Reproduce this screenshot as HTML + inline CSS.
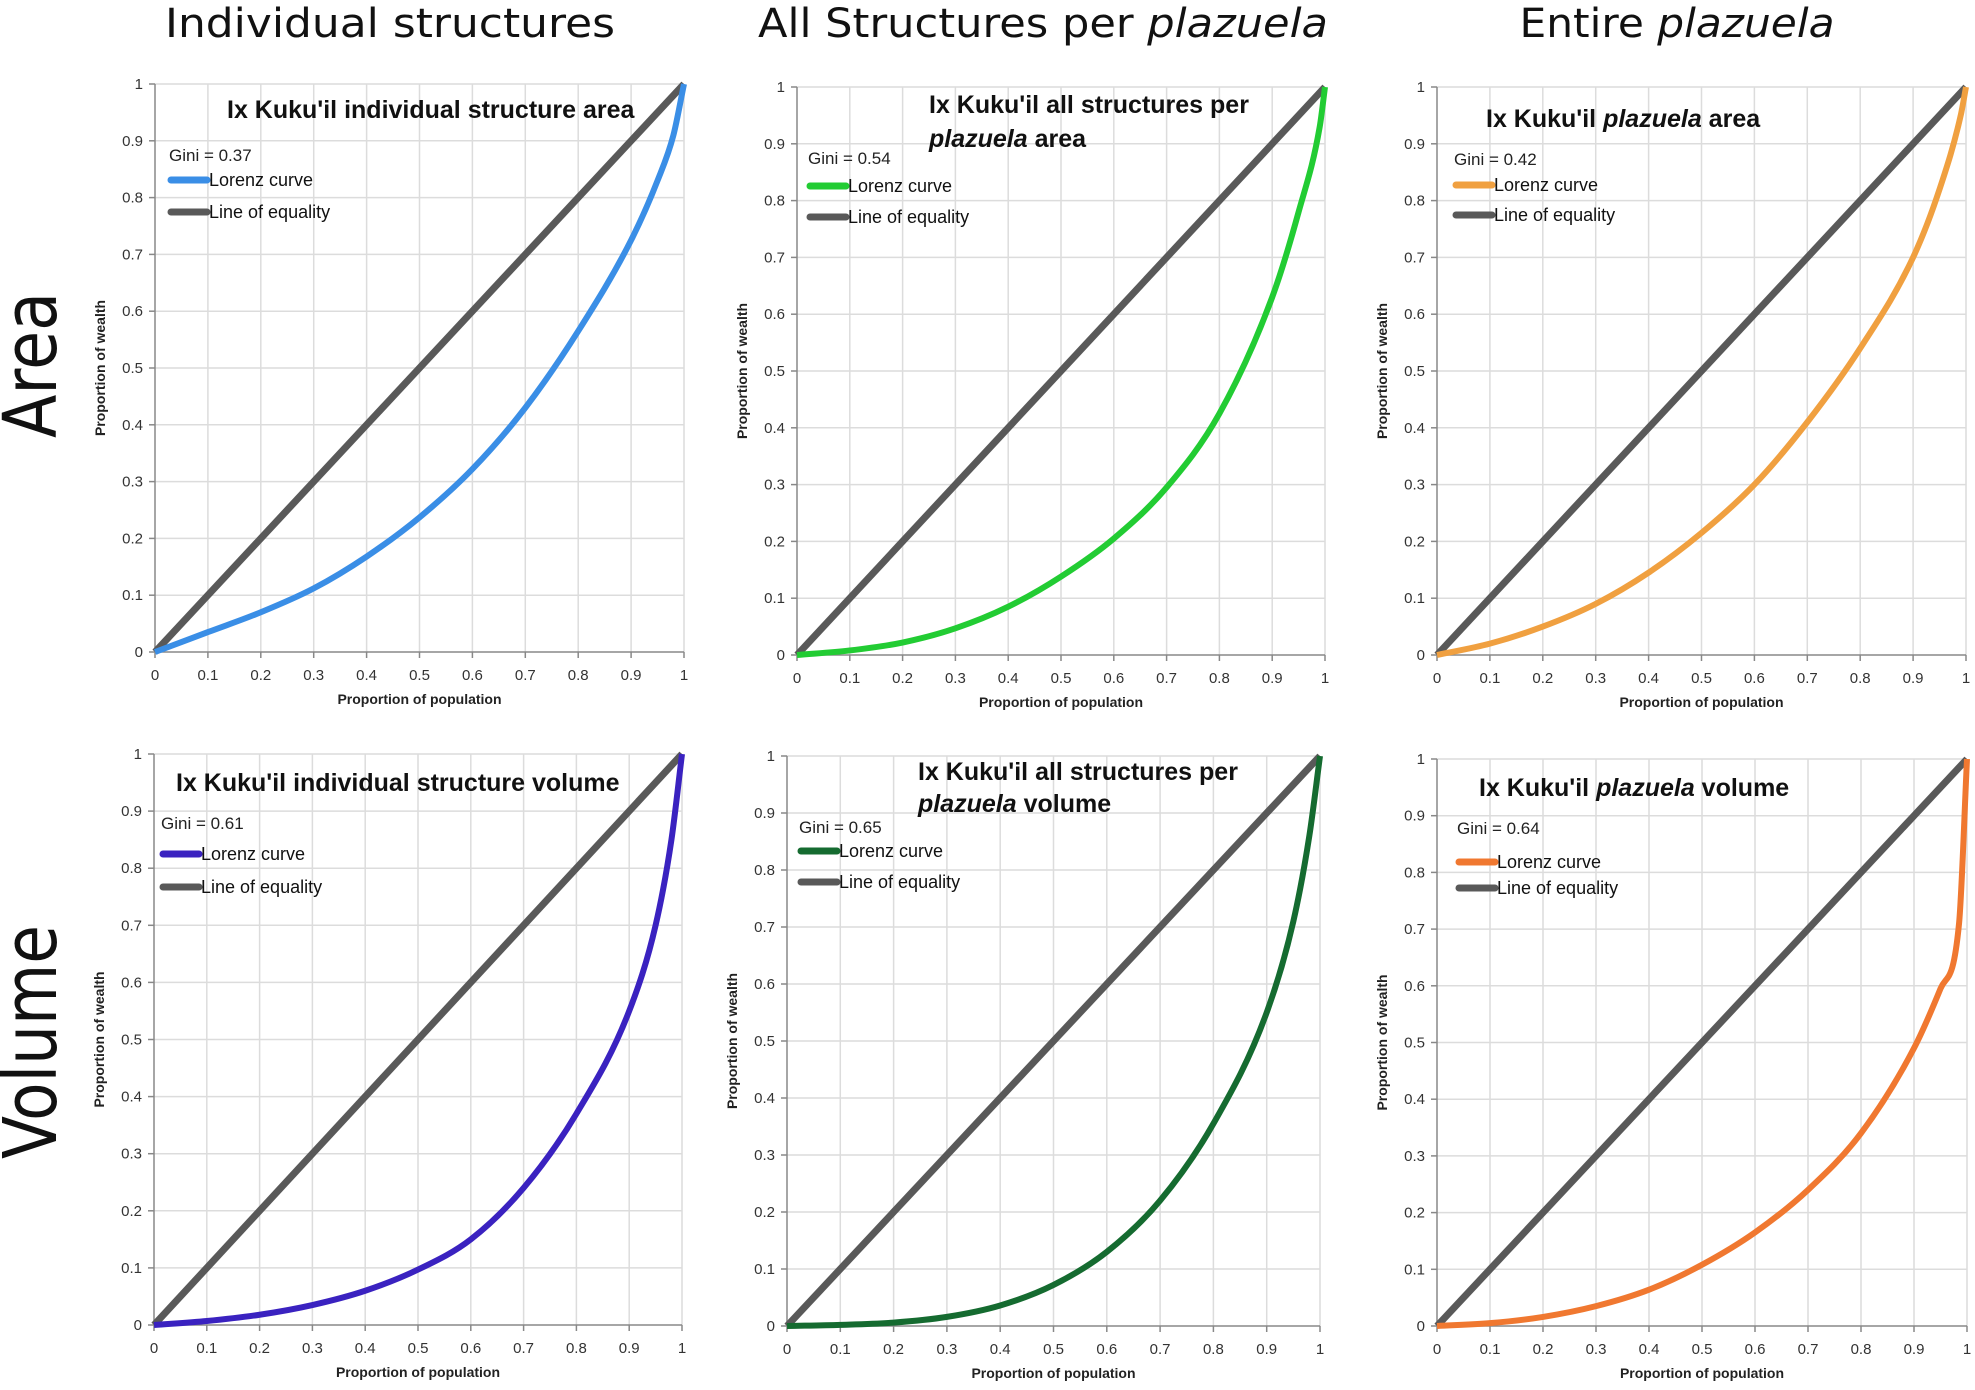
<!DOCTYPE html>
<html><head><meta charset="utf-8"><style>
html,body{margin:0;padding:0;background:#fff;}
svg{display:block;}
text{font-family:"Liberation Sans","DejaVu Sans",sans-serif;}
</style></head><body>
<svg id="fig" width="1975" height="1390" viewBox="0 0 1975 1390" xmlns="http://www.w3.org/2000/svg">
<g>
<text x="390" y="37" text-anchor="middle" font-size="40" textLength="450" lengthAdjust="spacingAndGlyphs" fill="#111" style="font-family:'DejaVu Sans',sans-serif">Individual structures</text>
<text x="1043" y="37" text-anchor="middle" font-size="40" textLength="570" lengthAdjust="spacingAndGlyphs" fill="#111" style="font-family:'DejaVu Sans',sans-serif">All Structures per <tspan font-style="italic">plazuela</tspan></text>
<text x="1677" y="37" text-anchor="middle" font-size="40" textLength="315" lengthAdjust="spacingAndGlyphs" fill="#111" style="font-family:'DejaVu Sans',sans-serif">Entire <tspan font-style="italic">plazuela</tspan></text>
</g>
<g>
<text transform="translate(56,365) rotate(-90)" text-anchor="middle" font-size="74" textLength="146" lengthAdjust="spacingAndGlyphs" fill="#111" style="font-family:'DejaVu Sans',sans-serif">Area</text>
<text transform="translate(56,1042) rotate(-90)" text-anchor="middle" font-size="74" textLength="234" lengthAdjust="spacingAndGlyphs" fill="#111" style="font-family:'DejaVu Sans',sans-serif">Volume</text>
</g>
</svg>
<script>
// ---- data (Lorenz curves) ----
const xTicks = [0,0.1,0.2,0.3,0.4,0.5,0.6,0.7,0.8,0.9,1];
const yTicks = [0,0.1,0.2,0.3,0.4,0.5,0.6,0.7,0.8,0.9,1];
const equalityX = [0,1];
const equalityY = [0,1];
const ginis = ["0.37","0.54","0.42","0.61","0.65","0.64"];
const pop1 = [0,0.1,0.2,0.3,0.4,0.5,0.6,0.7,0.8,0.9,0.95,0.98,1];
const wealth1 = [0,0.035,0.07,0.112,0.168,0.237,0.322,0.43,0.565,0.725,0.83,0.91,1];
const pop2 = [0,0.1,0.2,0.3,0.4,0.5,0.6,0.7,0.8,0.9,0.95,0.99,1];
const wealth2 = [0,0.008,0.022,0.047,0.085,0.138,0.205,0.295,0.425,0.63,0.78,0.93,1];
const pop3 = [0,0.1,0.2,0.3,0.4,0.5,0.6,0.7,0.8,0.9,0.95,0.99,1];
const wealth3 = [0,0.02,0.05,0.09,0.145,0.215,0.3,0.41,0.54,0.7,0.82,0.95,1];
const pop4 = [0,0.1,0.2,0.3,0.4,0.5,0.6,0.7,0.8,0.9,0.95,0.98,1];
const wealth4 = [0,0.007,0.018,0.035,0.06,0.097,0.15,0.24,0.37,0.55,0.7,0.85,1];
const pop5 = [0,0.1,0.2,0.3,0.4,0.5,0.6,0.7,0.8,0.9,0.95,0.98,1];
const wealth5 = [0,0.002,0.006,0.016,0.036,0.072,0.13,0.22,0.355,0.55,0.71,0.86,1];
const pop6 = [0,0.1,0.2,0.3,0.4,0.5,0.6,0.7,0.8,0.9,0.95,0.985,1];
const wealth6 = [0,0.005,0.016,0.035,0.064,0.108,0.165,0.24,0.34,0.49,0.595,0.71,1];

// ---- layout (not data) ----
const panels = [
 {name:'area-individual', x0:155,x1:684,yTop:84,yBot:652,color:'#3a8ee6',pop:pop1,w:wealth1,
  title:[[['Ix Kuku\'il individual structure area',false]]],tx:72,ty:[34],gx:14,gy:77,l1:96,l2:128},
 {name:'area-all-structures', x0:797,x1:1325,yTop:87,yBot:655,color:'#22cc33',pop:pop2,w:wealth2,
  title:[[['Ix Kuku\'il all structures per',false]],[['plazuela',true],[' area',false]]],tx:132,ty:[26,60],gx:11,gy:77,l1:99,l2:130},
 {name:'area-plazuela', x0:1437,x1:1966,yTop:87,yBot:655,color:'#f0a040',pop:pop3,w:wealth3,
  title:[[['Ix Kuku\'il ',false],['plazuela',true],[' area',false]]],tx:49,ty:[40],gx:17,gy:78,l1:98,l2:128},
 {name:'volume-individual', x0:154,x1:682,yTop:754,yBot:1325,color:'#3a22c0',pop:pop4,w:wealth4,
  title:[[['Ix Kuku\'il individual structure volume',false]]],tx:22,ty:[37],gx:7,gy:75,l1:100,l2:133},
 {name:'volume-all-structures', x0:787,x1:1320,yTop:756,yBot:1326,color:'#156b30',pop:pop5,w:wealth5,
  title:[[['Ix Kuku\'il all structures per',false]],[['plazuela',true],[' volume',false]]],tx:131,ty:[24,56],gx:12,gy:77,l1:95,l2:126},
 {name:'volume-plazuela', x0:1437,x1:1967,yTop:759,yBot:1326,color:'#f07830',pop:pop6,w:wealth6,
  title:[[['Ix Kuku\'il ',false],['plazuela',true],[' volume',false]]],tx:42,ty:[37],gx:20,gy:75,l1:103,l2:129}
];

const NS='http://www.w3.org/2000/svg';
const svg=document.getElementById('fig');
function mk(tag,attrs,parent){const e=document.createElementNS(NS,tag);for(const k in attrs)e.setAttribute(k,attrs[k]);parent.appendChild(e);return e;}

// monotone cubic path through pixel points
function smoothPath(xs,ys){
 const n=xs.length;const d=[],m=new Array(n);
 for(let i=0;i<n-1;i++)d.push((ys[i+1]-ys[i])/(xs[i+1]-xs[i]));
 m[0]=d[0];m[n-1]=d[n-2];
 for(let i=1;i<n-1;i++){m[i]=(d[i-1]*d[i]<=0)?0:(d[i-1]+d[i])/2;}
 for(let i=0;i<n-1;i++){if(d[i]===0){m[i]=0;m[i+1]=0;continue;}
  const a=m[i]/d[i],b=m[i+1]/d[i],s=a*a+b*b;if(s>9){const t=3/Math.sqrt(s);m[i]=t*a*d[i];m[i+1]=t*b*d[i];}}
 let p='M'+xs[0]+','+ys[0];
 for(let i=0;i<n-1;i++){const h=(xs[i+1]-xs[i])/3;
  p+=' C'+(xs[i]+h)+','+(ys[i]+m[i]*h)+' '+(xs[i+1]-h)+','+(ys[i+1]-m[i+1]*h)+' '+xs[i+1]+','+ys[i+1];}
 return p;
}

panels.forEach((p,i)=>{
 const sx=v=>p.x0+v*(p.x1-p.x0);
 const sy=v=>p.yBot-v*(p.yBot-p.yTop);
 const g=mk('g',{},svg);
 
 
 xTicks.forEach(t=>{if(t>0){const l=mk('line',{x1:sx(t),x2:sx(t),y1:p.yTop,y2:p.yBot,stroke:'#dcdcdc','stroke-width':1.5},g);
  
  }});
 yTicks.forEach(t=>{if(t>0){const l=mk('line',{x1:p.x0,x2:p.x1,y1:sy(t),y2:sy(t),stroke:'#dcdcdc','stroke-width':1.5},g);
  
  }});
 const ya=mk('line',{x1:p.x0,x2:p.x0,y1:p.yTop,y2:p.yBot,stroke:'#888','stroke-width':1.5},g);
 
 
 const xa=mk('line',{x1:p.x0,x2:p.x1,y1:p.yBot,y2:p.yBot,stroke:'#888','stroke-width':1.5},g);
 
 
 yTicks.forEach(t=>{
  mk('line',{x1:p.x0-6,x2:p.x0,y1:sy(t),y2:sy(t),stroke:'#888','stroke-width':1.5},g);
  const tx=mk('text',{x:p.x0-12,y:sy(t)+5,'text-anchor':'end','font-size':15,fill:'#333'},g);
  tx.textContent=String(t);
  
  
 });
 xTicks.forEach(t=>{
  mk('line',{x1:sx(t),x2:sx(t),y1:p.yBot,y2:p.yBot+6,stroke:'#888','stroke-width':1.5},g);
  const tx=mk('text',{x:sx(t),y:p.yBot+28,'text-anchor':'middle','font-size':15,fill:'#333'},g);
  tx.textContent=String(t);
  
  
 });
 const xt=mk('text',{x:(p.x0+p.x1)/2,y:p.yBot+52,'text-anchor':'middle','font-size':14,'font-weight':'bold',fill:'#222'},g);
 xt.textContent='Proportion of population';
 
 
 const yt=mk('text',{transform:`translate(${p.x0-50},${(p.yTop+p.yBot)/2}) rotate(-90)`,'text-anchor':'middle','font-size':14,'font-weight':'bold',fill:'#222'},g);
 yt.textContent='Proportion of wealth';
 
 
 const eq=mk('polyline',{points:equalityX.map((x,k)=>sx(x)+','+sy(equalityY[k])).join(' '),fill:'none',stroke:'#595959','stroke-width':7},g);
 
 
 const lc=mk('path',{d:smoothPath(p.pop.map(sx),p.w.map(sy)),fill:'none',stroke:p.color,'stroke-width':6,'stroke-linejoin':'round'},g);
 
 
 p.title.forEach((line,li)=>{
  const t=mk('text',{x:p.x0+p.tx,y:p.yTop+p.ty[li],'font-size':25,'font-weight':'bold',fill:'#111'},g);
  
  
  line.forEach(seg=>{const s=mk('tspan',{},t);if(seg[1])s.setAttribute('font-style','italic');s.textContent=seg[0];});
 });
 const gt=mk('text',{x:p.x0+p.gx,y:p.yTop+p.gy,'font-size':17,fill:'#222'},g);
 gt.textContent='Gini = '+ginis[i];
 
 
 const lg=mk('g',{},g);
 
 
 [[p.l1,p.color,'Lorenz curve'],[p.l2,'#595959','Line of equality']].forEach(e=>{
  mk('line',{x1:p.x0+p.gx+2,x2:p.x0+p.gx+38,y1:p.yTop+e[0],y2:p.yTop+e[0],stroke:e[1],'stroke-width':7,'stroke-linecap':'round'},lg);
  const t=mk('text',{x:p.x0+p.gx+40,y:p.yTop+e[0]+6,'font-size':18,fill:'#111'},lg);
  t.textContent=e[2];
  
  
 });
});
</script>
</body></html>
